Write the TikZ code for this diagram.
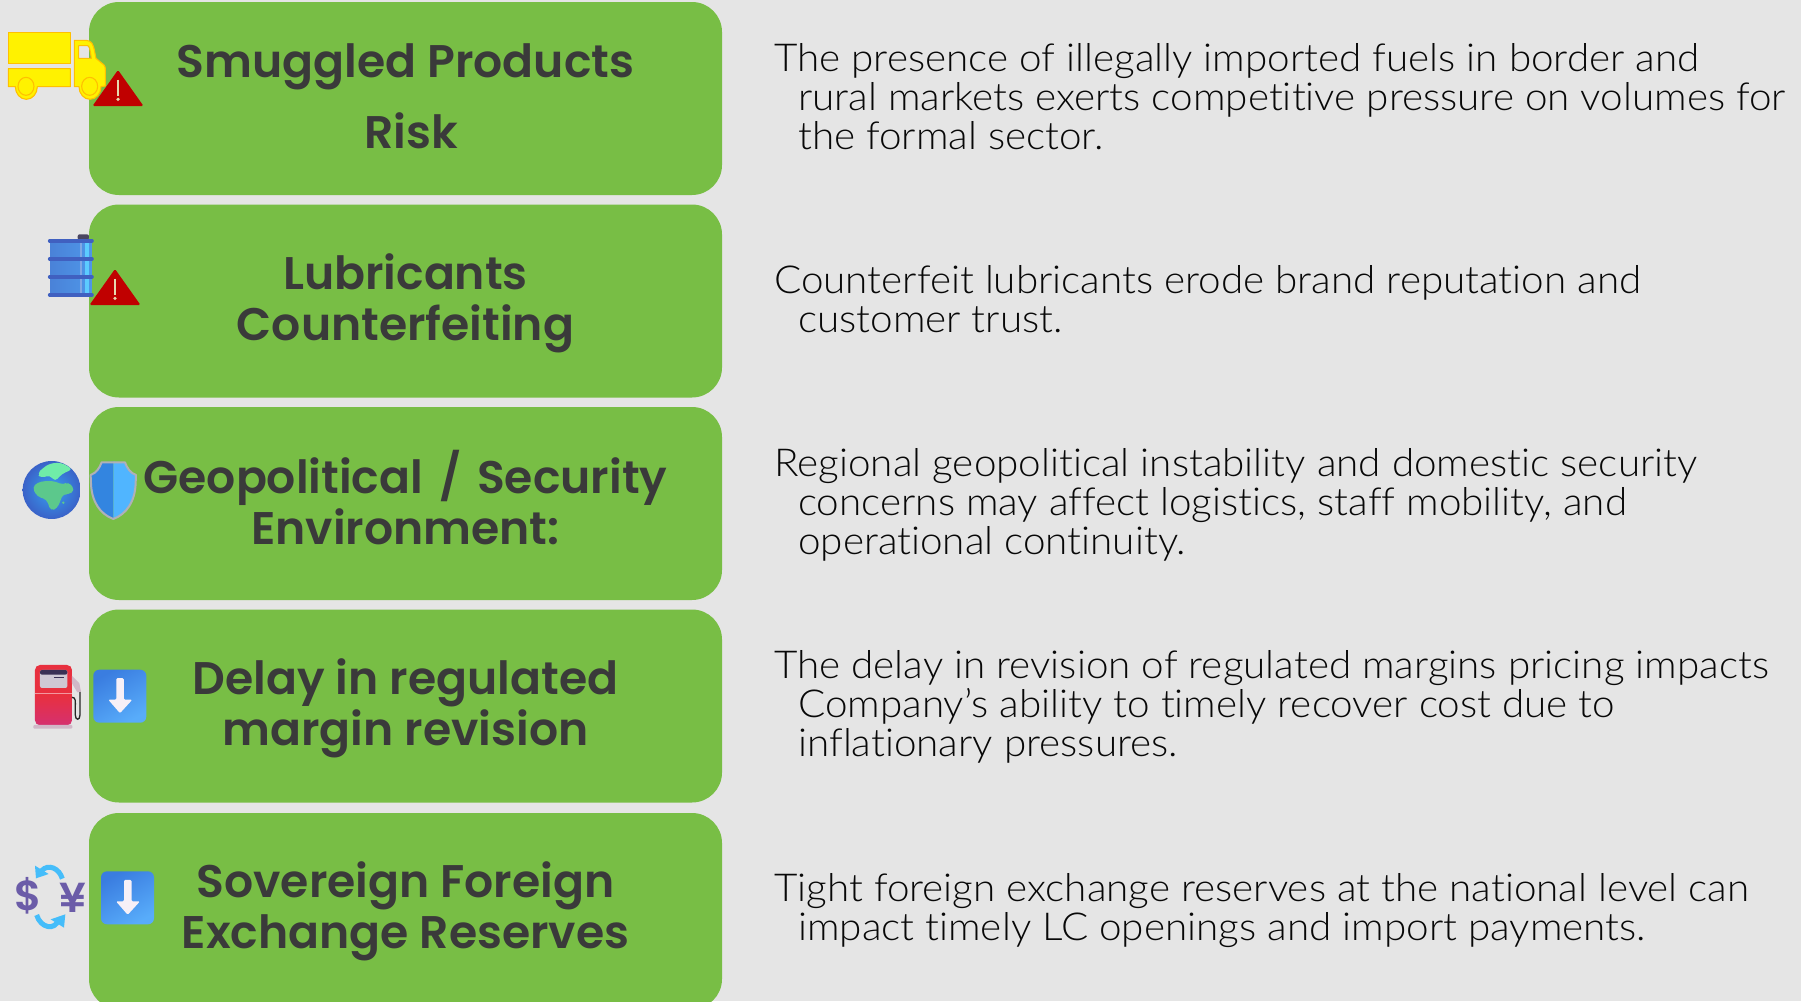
\documentclass[tikz,border=0pt]{standalone}
\usepackage{fontspec}
\newfontfamily\titlefont{Poppins SemiBold}
\newfontfamily\bodyfont[FakeStretch=1.05,Ligatures=NoCommon]{Lato Light}
\newfontfamily\symfont{Poppins SemiBold}
\definecolor{bgc}{HTML}{E5E5E5}
\definecolor{greenbox}{HTML}{78BE45}
\definecolor{titlec}{HTML}{3A3A3A}
\definecolor{bodyc}{HTML}{080808}
\definecolor{warnred}{HTML}{C00000}
\definecolor{warnmark}{HTML}{E6D8B0}
\definecolor{truckline}{HTML}{FFC000}
\definecolor{tileA}{HTML}{3A7DE0}
\definecolor{tileB}{HTML}{58ACFA}
\definecolor{barrelA}{HTML}{4A82D8}
\definecolor{barrelB}{HTML}{4E96E8}
\definecolor{barrelBand}{HTML}{4060C0}
\definecolor{barrelHi}{HTML}{5CCBFF}
\definecolor{barrelCap}{HTML}{4A4560}
\definecolor{globeIn}{HTML}{38A0F0}
\definecolor{globeOut}{HTML}{3A62C8}
\definecolor{landA}{HTML}{5CC88C}
\definecolor{landB}{HTML}{70ECA8}
\definecolor{shieldL}{HTML}{3385E0}
\definecolor{shieldR}{HTML}{50B5FF}
\definecolor{shieldEdge}{HTML}{B0B0B8}
\definecolor{pumpTop}{HTML}{E8303F}
\definecolor{pumpBot}{HTML}{D53070}
\definecolor{pumpScreen}{HTML}{CFC8D4}
\definecolor{pumpDark}{HTML}{3A3055}
\definecolor{pumpBase}{HTML}{D0B8C8}
\definecolor{curPurple}{HTML}{6B5CA8}
\definecolor{curCyan}{HTML}{45BDFA}
\tikzset{
  riskbox/.style={fill=greenbox,draw=none,rounded corners=30pt,minimum width=633pt,minimum height=193pt,inner sep=0pt,outer sep=0pt},
  risktitle/.style={text=titlec,align=center,inner sep=0pt,font=\titlefont\fontsize{45.7}{51}\selectfont},
  riskbody/.style={text=bodyc,align=left,anchor=west,inner sep=0pt,font=\bodyfont\fontsize{38.5}{39}\selectfont},
  truckpart/.style={fill=yellow,draw=truckline,line width=1.1pt,line join=round},
  pics/warn/.style={code={
    \fill[warnred,rounded corners=1.5pt] (0,0) -- (25.5,36) -- (-25.5,36) -- cycle;
    \draw[draw=warnmark,line width=1.2pt] (0,9.5) -- (0,26);
    \fill[warnmark] (0,29.3) circle (1.8);
  }},
  pics/downtile/.style={code={
    \shade[left color=tileA,right color=tileB,shading angle=30,rounded corners=6pt] (0,0) rectangle (53,53);
    \fill[white!94!violet,rounded corners=1.2pt] (23,8.5) -- (30.5,8.5) -- (30.5,30) -- (39,30) -- (26.7,43.5) -- (15,30) -- (23,30) -- cycle;
  }},
}
\begin{document}
\begin{tikzpicture}[x=1pt,y=-1pt]
\useasboundingbox (0,0) rectangle (1801,1001);
\fill[bgc] (0,0) rectangle (1801,1001);

\node[riskbox] (b1) at (405.5,98.5) {};
\node[riskbox] (b2) at (405.5,301) {};
\node[riskbox] (b3) at (405.5,503.5) {};
\node[riskbox] (b4) at (405.5,706) {};
\node[riskbox,minimum height=196pt] (b5) at (405.5,911) {};

% truck
\begin{scope}[x=0.3333pt,y=-0.3333pt]
\draw[truckpart] (25,98) rectangle (211,191);
\draw[truckpart] (25,206) -- (211,206) -- (211,260) -- (112,260) arc[start angle=0,end angle=180,x radius=33,y radius=38] -- (25,260) -- cycle;
\draw[truckpart,even odd rule] (223,121) -- (258,121) .. controls (275,121) and (280,135) .. (283,150) -- (288,175) -- (312,195) .. controls (316,199) and (316,203) .. (316,210) -- (316,258) -- (303,260) arc[start angle=0,end angle=180,x radius=33,y radius=38] -- (223,260) -- cycle
  (236,137) -- (262,137) .. controls (268,137) and (270,145) .. (274,175) -- (236,175) -- cycle;
\draw[truckpart] (78,259) ellipse (24 and 27);
\draw[truckpart] (269,259) ellipse (24 and 27);
\end{scope}
\pic at (118,70) {warn};

% barrel
\begin{scope}[x=0.3333pt,y=-0.3333pt]
\fill[rounded corners=2pt,fill=barrelCap] (233,703) rectangle (267,720);
\shade[left color=barrelA,right color=barrelB] (151,720) rectangle (274,888);
\fill[barrelHi] (254,720) rectangle (268,888);
\fill[barrelA!70!white] (240,720) rectangle (246,888);
\foreach \yy in {723,777,831,885}
  \draw[line width=3.6pt,line cap=round,color=barrelBand] (149,\yy) -- (276,\yy);
\end{scope}
\pic at (115,269) {warn};

% globe and shield
\begin{scope}[shift={(0,440)},x=0.3333pt,y=-0.3333pt]
\shade[inner color=globeIn,outer color=globeOut] (155,150) circle (87);
\fill[landA,rounded corners=4pt] (97,143) -- (112,127) -- (145,122) -- (168,125) -- (190,135) -- (205,125) -- (225,150) -- (205,165) -- (190,160) -- (172,205) -- (152,213) -- (140,178) -- (112,170) -- cycle;
\fill[landB,rounded corners=4pt] (112,100) -- (128,85) -- (150,70) -- (185,68) -- (218,88) -- (185,102) -- (165,125) -- (150,105) -- (122,115) -- cycle;
\fill[landA] (190,188) circle (4);
\fill[shieldL] (340,65) -- (340,237) .. controls (300,222) and (275,185) .. (273,130) -- (272,105) .. controls (290,98) and (298,85) .. (305,67) -- cycle;
\fill[shieldR] (340,65) -- (340,237) .. controls (380,222) and (405,185) .. (407,130) -- (408,105) .. controls (390,98) and (382,85) .. (375,67) -- cycle;
\draw[color=shieldEdge,line width=2pt,line join=round] (305,67) -- (375,67) .. controls (382,85) and (390,98) .. (408,105) -- (407,130) .. controls (405,185) and (380,222) .. (340,237) .. controls (300,222) and (275,185) .. (273,130) -- (272,105) .. controls (290,98) and (298,85) .. (305,67) -- cycle;
\end{scope}

% pump
\begin{scope}[shift={(0,440)},x=0.3333pt,y=-0.3333pt]
\shade[top color=pumpTop,bottom color=pumpBot,middle color=pumpTop,rounded corners=5pt] (105,675) rectangle (216,856);
\draw[line width=0.9pt,color=pumpTop!50!white] (105,760) -- (216,760);
\fill[rounded corners=2pt,color=pumpScreen] (120,690) rectangle (202,744);
\fill[rounded corners=2pt,color=pumpDark] (120,690) rectangle (202,704);
\draw[line width=1.1pt,color=pumpDark] (162,713) -- (193,713);
\fill[rounded corners=1pt,color=pumpBase] (100,855) rectangle (217,866);
\draw[line width=1.3pt,color=black!85] (216,772) .. controls (228,772) and (226,785) .. (226,800) -- (226,825) .. controls (226,842) and (240,842) .. (240,825) -- (240,755);
\fill[color=pumpBase] (216,708) -- (238,730) -- (243,755) -- (232,757) -- (216,730) -- cycle;
\end{scope}
\pic at (93.3,669.7) {downtile};

% currency
\begin{scope}[shift={(0,800)},x=0.3333pt,y=-0.3333pt]
\node[text=curPurple,font=\symfont\fontsize{42}{42}\selectfont,inner sep=0pt] (dollar) at (84,288) {\$};
\node[text=curPurple,font=\symfont\fontsize{42}{42}\selectfont,inner sep=0pt] (yen) at (220,293) {¥};
\draw[line width=5pt,color=curCyan] (187,236) .. controls (178,205) and (145,190) .. (125,212);
\fill[color=curCyan] (105,197) -- (108,235) -- (146,222) -- cycle;
\draw[line width=5pt,color=curCyan] (110,345) .. controls (122,385) and (165,392) .. (175,360);
\fill[color=curCyan] (196,343) -- (192,383) -- (152,358) -- cycle;
\end{scope}
\pic at (101,871.3) {downtile};

% titles
\node[risktitle,font=\titlefont\fontsize{45.7}{71}\selectfont] (t1) at (405.5,96.5) {Smuggled Products\\\hspace*{11pt}Risk};
\node[risktitle] (t2) at (405.5,303) {Lubricants\\Counterfeiting};
\node[risktitle] (t3) at (405.5,497.5) {Geopolitical\hspace{5pt} / \hspace{5pt}Security\\Environment:};
\node[risktitle] (t4) at (405.5,708) {Delay in regulated\\margin revision};
\node[risktitle] (t5) at (405.5,911) {Sovereign Foreign\\Exchange Reserves};

% body
\node[riskbody] (d1) at (774,97) {The presence of illegally imported fuels in border and\\\hspace*{24pt}rural markets exerts competitive pressure on volumes for\\\hspace*{24pt}the formal sector.};
\node[riskbody] (d2) at (774,299) {Counterfeit lubricants erode brand reputation and\\\hspace*{24pt}customer trust.};
\node[riskbody] (d3) at (774,505) {Regional geopolitical instability and domestic security\\\hspace*{24pt}concerns may affect logistics, staff mobility, and\\\hspace*{24pt}operational continuity.};
\node[riskbody] (d4) at (774,707) {The delay in revision of regulated margins pricing impacts\\\hspace*{24pt}Company’s ability to timely recover cost due to\\\hspace*{24pt}inflationary pressures.};
\node[riskbody] (d5) at (774,910.5) {Tight foreign exchange reserves at the national level can\\\hspace*{24pt}impact timely LC openings and import payments.};
\end{tikzpicture}
\end{document}
